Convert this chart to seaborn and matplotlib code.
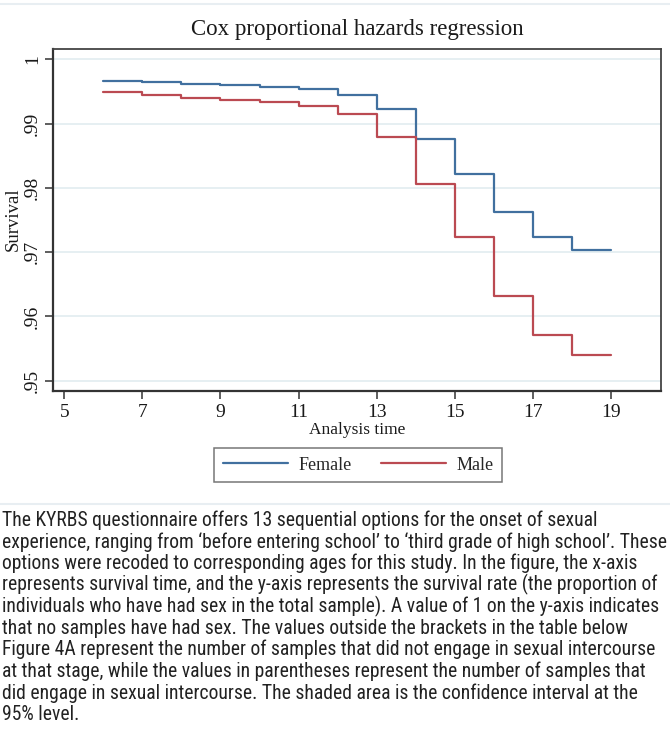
import matplotlib
matplotlib.use("Agg")
import matplotlib.pyplot as plt
from matplotlib import font_manager
from matplotlib.lines import Line2D
import seaborn as sns
import pandas as pd

# ---------------- data ----------------
times = [6, 7, 8, 9, 10, 11, 12, 13, 14, 15, 16, 17, 18, 19]
female = [0.99667, 0.99646, 0.99620, 0.99600, 0.99573, 0.99542, 0.99448,
          0.99224, 0.98755, 0.98219, 0.97627, 0.97228, 0.97026, 0.97026]
male = [0.99484, 0.99438, 0.99401, 0.99370, 0.99333, 0.99281, 0.99146,
        0.98792, 0.98063, 0.97228, 0.96321, 0.95710, 0.95399, 0.95399]
groups = ["Female", "Male"]
x_ticks = [5, 7, 9, 11, 13, 15, 17, 19]
y_ticks = [0.95, 0.96, 0.97, 0.98, 0.99, 1.0]
y_ticklabels = [".95", ".96", ".97", ".98", ".99", "1"]
title = "Cox proportional hazards regression"
xlabel = "Analysis time"
ylabel = "Survival"
caption_lines = [
    "The KYRBS questionnaire offers 13 sequential options for the onset of sexual",
    "experience, ranging from \u2018before entering school\u2019 to \u2018third grade of high school\u2019. These",
    "options were recoded to corresponding ages for this study. In the figure, the x-axis",
    "represents survival time, and the y-axis represents the survival rate (the proportion of",
    "individuals who have had sex in the total sample). A value of 1 on the y-axis indicates",
    "that no samples have had sex. The values outside the brackets in the table below",
    "Figure 4A represent the number of samples that did not engage in sexual intercourse",
    "at that stage, while the values in parentheses represent the number of samples that",
    "did engage in sexual intercourse. The shaded area is the confidence interval at the",
    "95% level.",
]

df = pd.DataFrame({
    "time": times * 2,
    "survival": female + male,
    "sex": [groups[0]] * len(times) + [groups[1]] * len(times),
})

colors = {"Female": "#41709f", "Male": "#bb4a52"}
W, H = 670, 738

sns.set_theme(style="white")
serif = ["Liberation Serif", "DejaVu Serif"]
plt.rcParams["font.family"] = serif

fig = plt.figure(figsize=(W / 100, H / 100), dpi=100)
ax_l, ax_r, ax_t, ax_b = 53.3, 661, 49, 391
ax = fig.add_axes([ax_l / W, 1 - ax_b / H, (ax_r - ax_l) / W, (ax_b - ax_t) / H])

sns.lineplot(data=df, x="time", y="survival", hue="sex", palette=colors,
             estimator=None, drawstyle="steps-post", linewidth=1.6,
             legend=False, ax=ax)

ax.set_xlim(4.72, 20.28)
ax.set_ylim(0.9484, 1.0016)
ax.set_xticks(x_ticks)
ax.set_xticklabels([str(t) for t in x_ticks], fontsize=14, family=serif)
ax.set_yticks(y_ticks)
ax.set_yticklabels(y_ticklabels, fontsize=14, family=serif, rotation=90, va="center")
ax.tick_params(axis="both", which="major", direction="out", length=6, width=1.1,
               color="#333333", labelcolor="#1a1a1a", bottom=True, left=True)
ax.tick_params(axis="x", pad=3)
ax.tick_params(axis="y", pad=3)
ax.grid(axis="y", color="#e6eff2", linewidth=1.4)
ax.grid(axis="x", visible=False)
ax.set_axisbelow(True)
for s in ax.spines.values():
    s.set_color("#444444")
    s.set_linewidth(1.3)
ax.spines["left"].set_color("#333333")
ax.spines["bottom"].set_color("#333333")
ax.spines["left"].set_linewidth(1.6)
ax.spines["bottom"].set_linewidth(1.6)

ax.set_xlabel(xlabel, fontsize=12.5, family=serif, color="#1a1a1a")
ax.xaxis.label.set_va("center")
ax.xaxis.set_label_coords((357 - ax_l) / (ax_r - ax_l), -(430 - ax_b) / (ax_b - ax_t))
ax.set_ylabel(ylabel, fontsize=13.5, family=serif, color="#1a1a1a")
ax.yaxis.label.set_va("center")
ax.yaxis.set_label_coords(-(ax_l - 13) / (ax_r - ax_l), (ax_b - 219) / (ax_b - ax_t))

fig.text(357 / W, 1 - 30 / H, title, ha="center", va="center", fontsize=16.5,
         family=serif, color="#1a1a1a")

handles = [Line2D([0], [0], color=colors[g], lw=1.6) for g in groups]
leg = fig.legend(handles, groups, loc="center", bbox_to_anchor=(358 / W, 1 - 465 / H),
                 ncol=2, frameon=True, fancybox=False,
                 prop={"family": serif, "size": 13},
                 handlelength=3.6, handletextpad=0.6, columnspacing=1.6,
                 borderpad=0.45, borderaxespad=0)
leg.get_frame().set_edgecolor("#555555")
leg.get_frame().set_linewidth(1.1)

# light separator lines of the page
fig.add_artist(Line2D([0, 1], [1 - 4 / H, 1 - 4 / H], transform=fig.transFigure,
                      color="#e8eef2", lw=1.5))
fig.add_artist(Line2D([0, 1], [1 - 504 / H, 1 - 504 / H], transform=fig.transFigure,
                      color="#e8eef2", lw=1.5))

# caption paragraph: pick a condensed sans if available
cap_family = None
for cand in ["Liberation Sans Narrow", "Roboto Condensed", "Open Sans Condensed", "Roboto"]:
    try:
        font_manager.findfont(font_manager.FontProperties(family=cand), fallback_to_default=False)
        cap_family = cand
        break
    except Exception:
        continue
if cap_family is None:
    cap_family = "DejaVu Sans"

renderer = fig.canvas.get_renderer()
probe = fig.text(0, 0, caption_lines[1], fontsize=10, family=[cap_family, "DejaVu Sans"])
wpx = probe.get_window_extent(renderer=renderer).width
probe.remove()
cap_size = 10 * 664 / wpx

y0, dy = 520, 21.6
for i, line in enumerate(caption_lines):
    fig.text(2 / W, 1 - (y0 + i * dy) / H, line, ha="left", va="center",
             fontsize=cap_size, family=[cap_family, "DejaVu Sans"], color="#222222")

fig.savefig("out.png", dpi=100)
